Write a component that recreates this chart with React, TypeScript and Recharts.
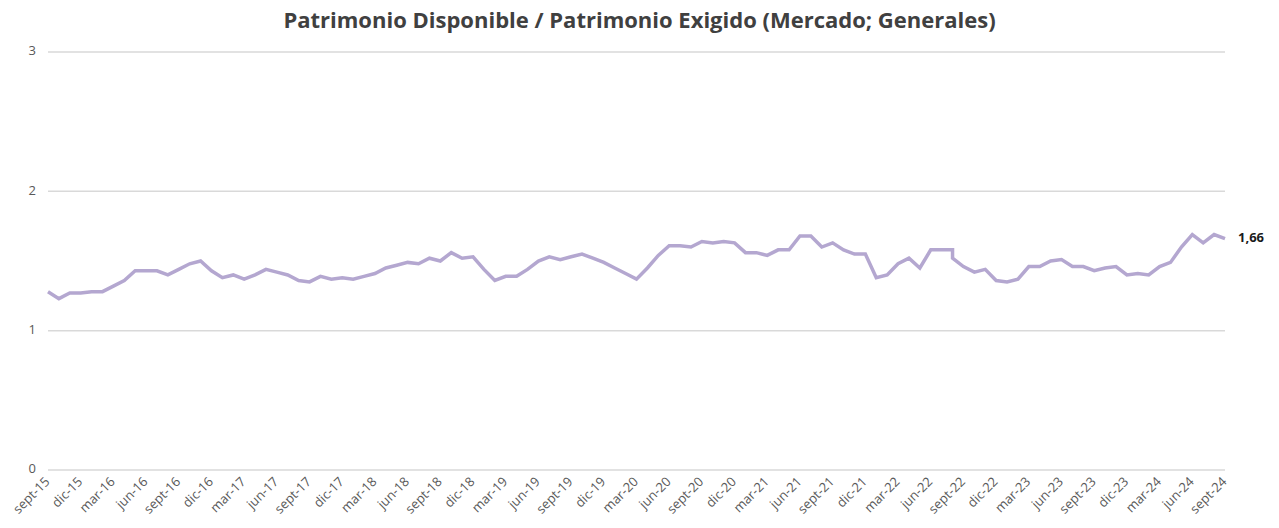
import { LineChart, Line, XAxis, YAxis, CartesianGrid, LabelList } from "recharts";

// Ratio, monthly from sept-15 to sept-24
const ratio = [
  1.28, 1.23, 1.27, 1.27, 1.28, 1.28, 1.32, 1.36, 1.43, 1.43, 1.43, 1.40,
  1.44, 1.48, 1.50, 1.43, 1.38, 1.40, 1.37, 1.40, 1.44, 1.42, 1.40, 1.36,
  1.35, 1.39, 1.37, 1.38, 1.37, 1.39, 1.41, 1.45, 1.47, 1.49, 1.48, 1.52,
  1.50, 1.56, 1.52, 1.53, 1.44, 1.36, 1.39, 1.39, 1.44, 1.50, 1.53, 1.51,
  1.53, 1.55, 1.52, 1.49, 1.45, 1.41, 1.37, 1.45, 1.54, 1.61, 1.61, 1.60,
  1.64, 1.63, 1.64, 1.63, 1.56, 1.56, 1.54, 1.58, 1.58, 1.68, 1.68, 1.60,
  1.63, 1.58, 1.55, 1.55, 1.38, 1.40, 1.48, 1.52, 1.45, 1.58, 1.58, 1.58,
  1.46, 1.42, 1.44, 1.36, 1.35, 1.37, 1.46, 1.46, 1.50, 1.51, 1.46, 1.46,
  1.43, 1.45, 1.46, 1.40, 1.41, 1.40, 1.46, 1.49, 1.60, 1.69, 1.63, 1.69,
  1.66,
];

// the series is restated in ago-22: a second value at the same month
const restatedIndex = 83;
const restatedValue = 1.52;

const tickLabels = [
  "sept-15", "dic-15", "mar-16", "jun-16", "sept-16", "dic-16", "mar-17", "jun-17",
  "sept-17", "dic-17", "mar-18", "jun-18", "sept-18", "dic-18", "mar-19", "jun-19",
  "sept-19", "dic-19", "mar-20", "jun-20", "sept-20", "dic-20", "mar-21", "jun-21",
  "sept-21", "dic-21", "mar-22", "jun-22", "sept-22", "dic-22", "mar-23", "jun-23",
  "sept-23", "dic-23", "mar-24", "jun-24", "sept-24",
];

const yTicks = [0, 1, 2, 3];

const data = ratio.flatMap((v, i) =>
  i === restatedIndex ? [{ i, v }, { i, v: restatedValue }] : [{ i, v }]
);
const xTicks = tickLabels.map((_, k) => k * 3);

const font = "'Open Sans', sans-serif";

const MonthTick = (props: any) => {
  const { x, y, payload } = props;
  return (
    <text
      x={x}
      y={y}
      transform={`rotate(-45, ${x}, ${y})`}
      textAnchor="end"
      dominantBaseline="middle"
      fontSize={13}
      fontFamily={font}
      fill="#595959"
    >
      {tickLabels[payload.value / 3]}
    </text>
  );
};

const ValueTick = (props: any) => {
  const { x, y, payload } = props;
  return (
    <text x={x - 4} y={y} textAnchor="end" dominantBaseline="middle" fontSize={13} fontFamily={font} fill="#595959">
      {payload.value}
    </text>
  );
};

const LastLabel = (props: any) => {
  const { x, y, index, value } = props;
  if (index !== data.length - 1) return null;
  return (
    <text x={x + 13} y={y} dominantBaseline="middle" fontSize={13} fontWeight={700} fontFamily={font} fill="#1a1a1a">
      {Number(value).toFixed(2).replace(".", ",")}
    </text>
  );
};

export default function App() {
  return (
    <div style={{ position: "absolute", left: 0, top: 0, width: 1279, height: 528, background: "#fff" }}>
      <div
        style={{
          position: "absolute",
          top: 4,
          left: 0,
          width: 1279,
          textAlign: "center",
          fontFamily: font,
          fontWeight: 700,
          fontSize: 22,
          color: "#404040",
        }}
      >
        Patrimonio Disponible / Patrimonio Exigido (Mercado; Generales)
      </div>
      <LineChart width={1279} height={528} data={data} margin={{ top: 52, right: 54, bottom: 0, left: 0 }}>
        <CartesianGrid vertical={false} stroke="#d9d9d9" strokeWidth={1.5} />
        <XAxis
          dataKey="i"
          type="number"
          domain={[0, 108]}
          ticks={xTicks}
          interval={0}
          height={58}
          axisLine={false}
          tickLine={false}
          tick={<MonthTick />}
          tickMargin={4}
        />
        <YAxis
          domain={[0, 3]}
          ticks={yTicks}
          width={48}
          axisLine={false}
          tickLine={false}
          tick={<ValueTick />}
        />
        <Line dataKey="v" stroke="#b4a7d0" strokeWidth={3.5} dot={false} isAnimationActive={false}>
          <LabelList dataKey="v" content={<LastLabel />} />
        </Line>
      </LineChart>
    </div>
  );
}
